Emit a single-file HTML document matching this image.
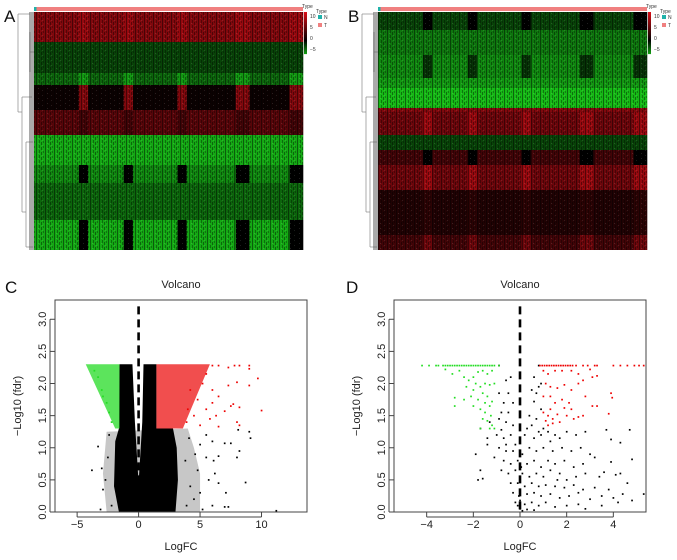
<!DOCTYPE html>
<html><head><meta charset="utf-8">
<style>
html,body{margin:0;padding:0;background:#fff;}
svg{display:block;font-family:"Liberation Sans",sans-serif;}
</style></head>
<body>
<svg id="fig" width="677" height="560" viewBox="0 0 677 560" xmlns="http://www.w3.org/2000/svg">
<defs>
<pattern id="tex" width="9" height="5" patternUnits="userSpaceOnUse">
<rect x="0" y="0" width="1" height="5" fill="#000" opacity="0.45"/>
<rect x="3" y="0" width="1" height="3" fill="#000" opacity="0.35"/>
<rect x="5" y="2" width="1" height="3" fill="#000" opacity="0.4"/>
<rect x="7" y="1" width="1" height="2" fill="#000" opacity="0.3"/>
<rect x="2" y="3" width="1" height="1" fill="#fff" opacity="0.12"/>
<rect x="6" y="0" width="1" height="1" fill="#fff" opacity="0.1"/>
</pattern>
</defs>
<g id="root"></g>
</svg>
<script>
// ---------- heatmap data ----------
const heatCols = 60;
const blockCols = [10,11,20,21,32,33,45,46,47,57,58,59];
const heatABandRows = [30,31,12,25,25,30,18,37,30];
const heatABandVals = [6,-2,-3,0.5,4,-5,-4,-3,-5];
const heatABlockVals = [7,-2,-4.5,6,3,-5,0,-3,0];
const heatBBandRows = [18,25,23,10,20,4,23,15,15,25,45,15];
const heatBBandVals = [-2,-3.5,-4,-4.5,-5.5,6,5,-2,3,5,1.5,3];
const heatBBlockVals = [0,-3.5,-1.5,-4.5,-5.5,6,7,-2,0,7,2,5];
// ---------- volcano C data ----------
const cBlackPoly = [[-1.55,2.3],[-0.5,2.3],[-0.3,1.4],[0,0.45],[0.3,1.4],[0.4,2.3],[1.45,2.3],[1.45,1.3],[2.8,1.3],[3.1,1.0],[3.2,0.5],[3.0,0],[-1.6,0],[-2.0,0.4],[-1.9,1.1],[-1.6,1.3]];
const cSparsePoly = [[-2.6,1.25],[-2.9,0.6],[-2.6,0],[5,0],[5,0.6],[4.5,1.0],[4,1.3]];
const cGreenPoly = [[-4.3,2.3],[-1.55,2.3],[-1.55,1.3],[-1.9,1.3]];
const cRedPoly = [[1.45,2.3],[5.8,2.3],[3.6,1.3],[1.45,1.3]];
const cRedPts = [[6.0,2.28],[6.5,2.28],[7.3,2.25],[7.8,2.28],[8.2,2.28],[9.0,2.28],[9.0,2.23],[9.7,2.08],[9.0,1.97],[8.0,2.02],[7.3,1.97],[6.0,1.9],[6.5,1.8],[7.5,1.65],[7.7,1.68],[8.2,1.63],[10.0,1.58],[6.0,1.7],[5.5,1.6],[6.3,1.5],[7.0,1.57],[8.2,1.35],[8.0,1.4],[5.8,1.45],[6.5,1.33],[5.0,1.35],[4.5,1.5],[4.8,1.75],[5.2,2.0],[5.5,2.15],[4.2,1.9],[4.0,1.6],[3.9,1.4]];
const cGreenPts = [[-3.0,1.9],[-3.3,2.1],[-2.6,1.7],[-2.4,1.55],[-2.2,1.4],[-3.6,2.2],[-2.9,1.8]];
const cBlackPts = [[8.1,1.28],[9.0,1.25],[9.1,1.15],[7.5,1.07],[7.0,1.07],[8.2,0.95],[8.0,0.85],[6.5,0.87],[6.1,0.8],[5.5,0.85],[6.0,1.1],[5.5,1.2],[6.2,0.6],[5.7,0.5],[6.5,0.45],[8.7,0.46],[7.1,0.3],[7.0,0.08],[7.3,0.08],[11.2,0.02],[6.0,0.1],[5.2,0.04],[-3.3,1.02],[-3.8,0.65],[-3.0,0.68],[-2.9,0.35],[-3.1,0.04],[-2.2,0.1],[5.0,0.3],[4.8,0.65],[4.6,0.9],[5.0,1.05],[4.5,0.2],[-2.5,0.85],[-2.7,0.5],[4.2,0.4],[3.8,0.8],[4.1,1.15],[-2.4,1.2],[3.9,0.1]];
// ---------- volcano D data ----------
const dGreenTop = [-4.2,-3.9,-3.6,-3.5,-3.3,-3.2,-3.1,-3.0,-2.9,-2.8,-2.7,-2.6,-2.5,-2.4,-2.3,-2.2,-2.1,-2.0,-1.9,-1.8,-1.7,-1.6,-1.5,-1.4,-1.3,-1.2,-1.1,-0.9];
const dRedTop = [0.85,0.95,1.05,1.15,1.25,1.35,1.45,1.55,1.65,1.75,1.85,1.95,2.05,2.15,2.25,2.4,2.7,2.9,3.2,3.3,4.0,4.3,4.6,4.9,5.1,5.3];
const dGreenPts = [[-3.2,2.22],[-2.9,2.15],[-2.6,2.2],[-2.4,2.1],[-2.2,2.05],[-2.0,2.1],[-1.8,2.18],[-1.6,2.2],[-1.4,2.15],[-1.2,2.2],[-2.3,1.95],[-2.0,1.9],[-1.7,1.95],[-1.5,2.0],[-1.3,1.98],[-1.1,2.0],[-2.1,1.8],[-1.8,1.75],[-1.6,1.85],[-1.4,1.8],[-2.8,1.78],[-2.8,1.65],[-2.0,1.65],[-1.7,1.6],[-1.5,1.55],[-1.3,1.65],[-1.2,1.72],[-1.6,1.45],[-1.4,1.42],[-1.2,1.35],[-1.1,1.3],[-1.3,1.3],[-1.7,1.3],[-2.4,1.75],[-1.9,2.0],[-1.5,1.7],[-1.25,1.5]];
const dRedPts = [[1.0,2.2],[1.2,2.15],[1.5,2.2],[1.8,2.2],[2.2,2.2],[2.5,2.15],[3.0,2.22],[3.1,2.1],[3.3,2.12],[1.1,2.0],[1.3,1.95],[1.6,1.93],[1.9,1.98],[2.2,1.9],[2.5,2.0],[2.7,2.05],[1.0,1.8],[1.3,1.8],[1.5,1.7],[1.8,1.75],[2.1,1.7],[2.8,1.8],[3.1,1.65],[3.9,1.85],[3.95,1.78],[1.0,1.55],[1.2,1.5],[1.4,1.45],[1.6,1.52],[1.9,1.62],[2.2,1.6],[2.5,1.48],[2.7,1.5],[3.3,1.65],[3.8,1.53],[1.2,1.35],[1.4,1.38],[1.7,1.4],[1.1,1.42],[1.3,1.6],[2.0,1.5],[2.3,1.45]];
const dBlackPts = [[-0.9,2.28],[0.8,2.28],[-0.4,2.1],[-0.6,2.05],[0.6,2.1],[0.9,2.0],[0.8,1.95],[-0.5,1.85],[-0.9,1.85],[0.5,1.9],[0.7,1.85],[-0.7,1.7],[-0.3,1.7],[0.6,1.72],[0.9,1.6],[-0.8,1.55],[-0.5,1.55],[-0.9,1.45],[0.4,1.5],[0.7,1.45],[1.0,1.3],[-0.6,1.4],[-0.3,1.35],[0.3,1.3],[0.5,1.35],[0.8,1.25],[1.2,1.25],[1.5,1.2],[-1.7,1.3],[-0.8,1.28],[-1.0,1.2],[-0.7,1.15],[-0.4,1.2],[0.2,1.2],[0.6,1.15],[0.9,1.2],[1.3,1.1],[1.7,1.15],[2.0,1.25],[2.4,1.2],[2.8,1.25],[3.7,1.28],[4.7,1.28],[3.9,1.13],[4.3,1.08],[-1.4,1.05],[-0.9,1.0],[-0.6,1.05],[-0.3,0.95],[0.1,0.9],[0.4,1.0],[0.7,0.95],[1.0,1.0],[1.4,0.95],[1.8,1.0],[2.2,0.95],[2.6,1.0],[3.0,0.9],[-1.9,0.9],[-1.1,0.85],[-0.7,0.8],[-0.4,0.75],[-0.1,0.8],[0.3,0.75],[0.6,0.8],[0.9,0.7],[1.2,0.8],[1.5,0.75],[1.9,0.8],[2.3,0.7],[2.7,0.75],[3.2,0.85],[3.9,0.78],[4.8,0.82],[-0.8,0.65],[-0.5,0.6],[-0.2,0.65],[0.1,0.6],[0.4,0.55],[0.7,0.6],[1.0,0.55],[1.3,0.65],[1.7,0.6],[2.0,0.5],[2.4,0.55],[2.8,0.6],[3.4,0.55],[3.6,0.62],[4.1,0.58],[4.3,0.6],[-1.7,0.65],[-1.6,0.52],[-1.8,0.5],[-0.4,0.45],[-0.1,0.45],[0.2,0.4],[0.5,0.45],[0.8,0.4],[1.1,0.42],[1.5,0.4],[1.9,0.38],[2.3,0.42],[2.7,0.35],[3.2,0.38],[3.8,0.35],[4.6,0.45],[-0.3,0.3],[0,0.32],[0.3,0.28],[0.6,0.3],[0.9,0.25],[1.3,0.28],[1.7,0.22],[2.1,0.25],[2.5,0.3],[3.0,0.2],[3.5,0.25],[4.0,0.22],[4.4,0.28],[4.8,0.18],[5.3,0.28],[-0.2,0.15],[0,0.18],[0.2,0.12],[0.5,0.15],[0.8,0.1],[1.1,0.15],[1.5,0.08],[2.0,0.1],[2.5,0.12],[2.8,0.05],[3.5,0.1],[4.2,0.15],[0,0.05],[0.1,0.02],[0.3,0.04],[0.6,0.03],[-0.1,0.1],[-0.05,0.25],[-0.6,0.95],[-0.2,1.05],[1.6,0.5],[0.05,0.7],[-1.3,1.4],[-1.4,1.15]];
const volcYTicks = [0,0.5,1.0,1.5,2.0,2.5,3.0];
const cXTicks = [-5,0,5,10];
const dXTicks = [-4,-2,0,2,4];

const NS='http://www.w3.org/2000/svg';
const root=document.getElementById('root');
function el(tag,attrs,parent){const e=document.createElementNS(NS,tag);for(const k in attrs)e.setAttribute(k,attrs[k]);(parent||root).appendChild(e);return e;}
function heatColor(v){if(v>=0){const r=Math.round(Math.min(v,10)/10*215);return `rgb(${r},${Math.round(r*0.06)},${Math.round(r*0.1)})`;}const g=Math.round(Math.min(-v,6)/5.5*185);return `rgb(${Math.round(g*0.12)},${Math.min(g,230)},${Math.round(g*0.12)})`;}

function drawHeat(name,x0,y0,w,rows,vals,bvals){
  const g=el('g',{});
  
  
  const total=rows.reduce((a,b)=>a+b,0);const H=238;const cw=w/heatCols;
  let y=y0;
  rows.forEach((r,i)=>{
    const h=r/total*H;
    const band=el('rect',{x:x0,y:y,width:w,height:h,fill:heatColor(vals[i])},g);
    
    
    blockCols.forEach(c=>{
      const cell=el('rect',{x:x0+c*cw,y:y,width:cw+0.3,height:h,fill:heatColor(bvals[i])},g);
      
      
    });
    y+=h;
  });
  el('rect',{x:x0,y:y0,width:w,height:H,fill:'url(#tex)'},g);
  el('rect',{x:x0,y:y0-5,width:w,height:4,fill:'#F08080'},g);
  el('rect',{x:x0,y:y0-5,width:2.5,height:4,fill:'#20B2AA'},g);
  const dx=x0-16;
  const dg=el('g',{stroke:'#888','stroke-width':0.7,fill:'none'},g);
  const segs=[[dx,y0+2,dx,y0+100],[dx,y0+2,x0-4,y0+2],[dx,y0+100,dx+4,y0+100],
    [dx+4,y0+85,dx+4,y0+200],[dx+4,y0+85,x0-2,y0+85],[dx+4,y0+200,dx+8,y0+200],
    [dx+8,y0+130,dx+8,y0+235],[dx+8,y0+130,x0-1,y0+130],[dx+8,y0+235,x0-1,y0+235],
    [dx+12,y0+20,dx+12,y0+60],[dx+12,y0+40,x0,y0+40]];
  segs.forEach(s=>el('line',{x1:s[0],y1:s[1],x2:s[2],y2:s[3]},dg));
  el('rect',{x:x0-5,y:y0,width:5,height:H,fill:'#555',opacity:0.5},g);
  const lx=x0+w+1;
  const grad=[10,5,0,-5];
  for(let k=0;k<42;k++){el('rect',{x:lx,y:y0+k,width:3,height:1.1,fill:heatColor(10-k*15/42)},g);}
  grad.forEach((v,i)=>{const t=el('text',{x:lx+6,y:y0+6+i*11,'font-size':5,fill:'#333'},g);t.textContent=v===-5?'−5':v;});
  const t1=el('text',{x:lx-2,y:y0-4,'font-size':5,fill:'#333'},g);t1.textContent='Type';
  const t2=el('text',{x:lx+12,y:y0+1,'font-size':5,fill:'#333'},g);t2.textContent='Type';
  el('rect',{x:lx+14,y:y0+3,width:4,height:4,fill:'#20B2AA'},g);
  el('rect',{x:lx+14,y:y0+11,width:4,height:4,fill:'#F08080'},g);
  const t3=el('text',{x:lx+20,y:y0+7,'font-size':5,fill:'#333'},g);t3.textContent='N';
  const t4=el('text',{x:lx+20,y:y0+15,'font-size':5,fill:'#333'},g);t4.textContent='T';
}
drawHeat('heatmap-a',34,12,269,heatABandRows,heatABandVals,heatABlockVals);
drawHeat('heatmap-b',378,12,269,heatBBandRows,heatBBandVals,heatBBlockVals);

function drawVolcano(name,box,xmin,xmax,xticks,polys,ptsets,tops){
  const [L,T,R,B]=box;const ymin=0,ymax=3.3;
  const sx=v=>L+(v-xmin)/(xmax-xmin)*(R-L);
  const sy=v=>B-(v-ymin)/(ymax-ymin)*(B-T);
  const g=el('g',{});
  
  
  const clip=el('clipPath',{id:name+'-clip'},g);
  el('rect',{x:L,y:T,width:R-L,height:B-T},clip);
  const pg=el('g',{'clip-path':`url(#${name}-clip)`},g);
  polys.forEach(p=>{const poly=el('polygon',{points:p.pts.map(q=>sx(q[0])+','+sy(q[1])).join(' '),fill:p.color,opacity:p.op},pg);
    });
  ptsets.forEach(s=>s.pts.forEach(q=>{const c=el('rect',{x:sx(q[0])-0.8,y:sy(q[1])-0.8,width:1.7,height:1.7,fill:s.color},pg);
    }));
  tops.forEach(s=>s.xs.forEach(x=>{const c=el('rect',{x:sx(x)-0.8,y:sy(s.y)-0.8,width:1.7,height:1.7,fill:s.color},pg);
    }));
  const dl=el('line',{x1:sx(0),x2:sx(0),y1:sy(3.2),y2:sy(0),stroke:'#000','stroke-width':2.6,'stroke-dasharray':'8,5'},g);
  
  el('rect',{x:L,y:T,width:R-L,height:B-T,fill:'none',stroke:'#444','stroke-width':1},g);
  xticks.forEach(v=>{el('line',{x1:sx(v),x2:sx(v),y1:B,y2:B+5,stroke:'#444'},g);
    const t=el('text',{x:sx(v),y:B+16,'font-size':11,'text-anchor':'middle',fill:'#222'},g);t.textContent=v<0?'−'+(-v):v;
    });
  el('line',{x1:sx(xticks[0]),x2:sx(xticks[xticks.length-1]),y1:B+5,y2:B+5,stroke:'#444'},g);
  volcYTicks.forEach(v=>{el('line',{x1:L,x2:L-5,y1:sy(v),y2:sy(v),stroke:'#444'},g);
    const t=el('text',{x:L-9,y:sy(v),'font-size':11,'text-anchor':'middle',fill:'#222',transform:`rotate(-90 ${L-9} ${sy(v)})`},g);t.textContent=v.toFixed(1);
    });
  el('line',{x1:L-5,x2:L-5,y1:sy(0),y2:sy(3.0),stroke:'#444'},g);
  const ti=el('text',{x:(L+R)/2,y:T-12,'font-size':11,'text-anchor':'middle',fill:'#222'},g);ti.textContent='Volcano';
  
  const xl=el('text',{x:(L+R)/2,y:B+38,'font-size':11,'text-anchor':'middle',fill:'#222'},g);xl.textContent='LogFC';
  
  const yx=L-34,yy=(T+B)/2;
  const yl=el('text',{x:yx,y:yy,'font-size':11,'text-anchor':'middle',fill:'#222',transform:`rotate(-90 ${yx} ${yy})`},g);yl.textContent='−Log10 (fdr)';
  
}
drawVolcano('volcano-c',[55,300,307,512],-6.8,13.7,cXTicks,
  [{pts:cSparsePoly,color:'#000',op:0.22,name:'nonsig-sparse-region'},{pts:cBlackPoly,color:'#000',op:1,name:'nonsig-dense-region'},
   {pts:cGreenPoly,color:'#33dd33',op:0.8,name:'down-region'},{pts:cRedPoly,color:'#ee2222',op:0.8,name:'up-region'}],
  [{pts:cRedPts,color:'#e00',name:'up-point'},{pts:cGreenPts,color:'#2d2',name:'down-point'},{pts:cBlackPts,color:'#000',name:'nonsig-point'}],
  []);
drawVolcano('volcano-d',[394,300,646,512],-5.4,5.4,dXTicks,[],
  [{pts:dBlackPts,color:'#000',name:'nonsig-point'},{pts:dGreenPts,color:'#2d2',name:'down-point'},{pts:dRedPts,color:'#e00',name:'up-point'}],
  [{xs:dGreenTop,y:2.28,color:'#2d2',name:'down-point'},{xs:dRedTop,y:2.28,color:'#e00',name:'up-point'}]);

[['A',4,22],['B',348,22],['C',5,293],['D',346,293]].forEach(p=>{const t=el('text',{x:p[1],y:p[2],'font-size':17,fill:'#111'});t.textContent=p[0];
  });
</script>
</body></html>
